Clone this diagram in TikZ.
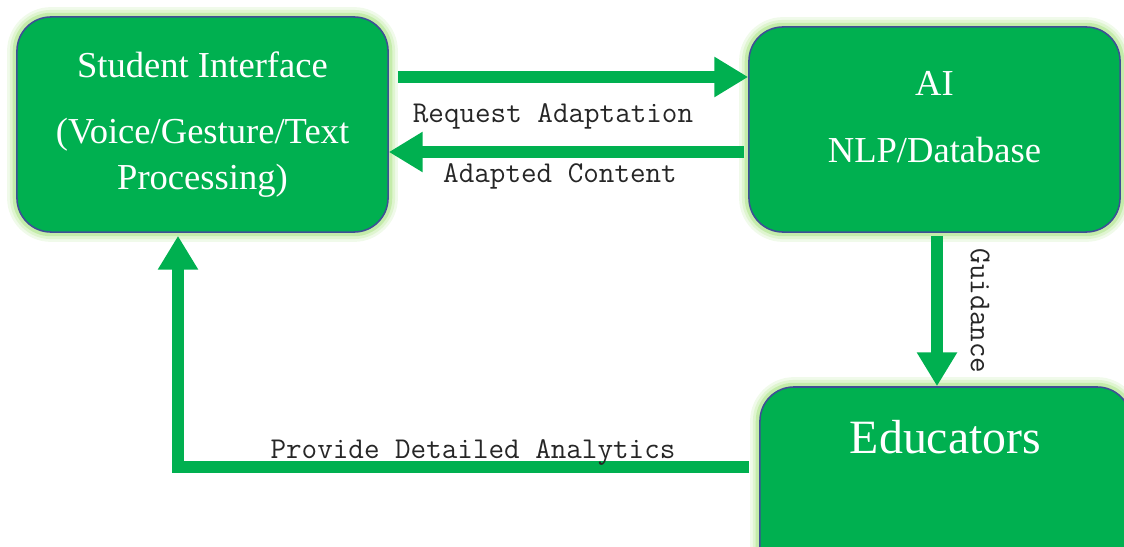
\documentclass[tikz,border=0pt]{standalone}
\usepackage{fontspec}
\setmainfont{Liberation Serif}
\usetikzlibrary{arrows.meta}
\definecolor{boxgreen}{RGB}{0,176,80}
\definecolor{boxline}{RGB}{62,78,150}
\definecolor{glowgreen}{RGB}{196,236,170}

\begin{document}
\begin{tikzpicture}[
    x=0.025cm, y=-0.025cm,
    box/.style={rectangle, rounded corners=0.85cm, fill=boxgreen, draw=boxline, line width=1.1pt,
      text=white, align=center, font=\fontsize{26}{32.6}\selectfont,
      preaction={draw=glowgreen!25, line width=14pt}, preaction={draw=glowgreen!55, line width=10pt},
      preaction={draw=glowgreen, line width=6pt}},
    flow/.style={-{Triangle[length=24pt,width=27pt]}, line width=8.5pt, draw=boxgreen},
    note/.style={font=\ttfamily\fontsize{21.5}{24}\selectfont, text=black!85}
  ]
  \useasboundingbox (0,0) rectangle (1124,546);
  \clip (0,0) rectangle (1124,546);

  % Main blocks
  \node[box, minimum width=9.275cm, minimum height=5.375cm] (student) at (202.5,124.5)
    {Student Interface\\[15pt](Voice/Gesture/Text\\Processing)};
  \node[box, minimum width=9.275cm, minimum height=5.125cm, text depth=0.65cm] (ai) at (934.5,129.5)
    {AI\\[15pt]NLP/Database};
  \node[box, minimum width=9.275cm, minimum height=5.125cm, font=\fontsize{34}{40}\selectfont,
    text depth=2.65cm] (educators) at (945.5,489.5) {Educators};

  % Flows between blocks
  \draw[flow] ([shift={(9,-47.5)}]student.east) coordinate (req) -- (req -| ai.west);
  \draw[flow] ([shift={(-4,22.5)}]ai.west) coordinate (ada) -- (ada -| student.east);
  \draw[flow] ([shift={(2.5,3)}]ai.south) coordinate (gui) -- (gui |- educators.north);
  \draw[flow] ([shift={(-10,-22.5)}]educators.west) -| ([shift={(-24.5,3)}]student.south);

  % Flow labels
  \node[note] (reqlabel) at (553,116) {Request Adaptation};
  \node[note] (adalabel) at (560,176) {Adapted Content};
  \node[note, rotate=-90] (guilabel) at (980,311) {Guidance};
  \node[note] (anllabel) at (473,452) {Provide Detailed Analytics};

\end{tikzpicture}
\end{document}
